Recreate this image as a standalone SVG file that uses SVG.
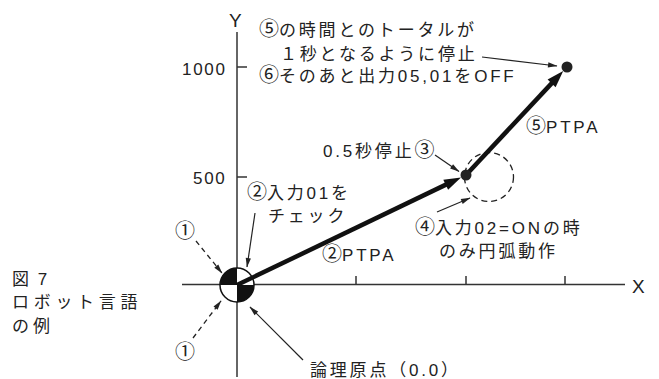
<svg xmlns="http://www.w3.org/2000/svg" width="659" height="379" viewBox="0 0 659 379">
<style>
.t{font-family:'Liberation Sans','Noto Sans CJK JP',sans-serif;font-size:17px;fill:#222;letter-spacing:2.8px}
.c{font-size:20px;letter-spacing:0}
.ax{stroke:#333;stroke-width:1.5;fill:none}
.thin{stroke:#222;stroke-width:1.2;fill:none;marker-end:url(#ah)}
.dash{stroke:#222;stroke-width:1.3;fill:none;stroke-dasharray:5 4;marker-end:url(#ah)}
.thick{stroke:#111;stroke-width:4.5;fill:none}
</style>
<defs>
<marker id="ah" markerUnits="userSpaceOnUse" markerWidth="12" markerHeight="8" viewBox="0 -4 10 8" refX="9" refY="0" orient="auto">
<path d="M0,-2.6 L9.5,0 L0,2.6 Z" fill="#222"/>
</marker>
</defs>
<rect width="659" height="379" fill="#fff"/>
<g id="axes">
<line class="ax" x1="182" y1="284.5" x2="625" y2="284.5"/>
<line class="ax" x1="237" y1="32" x2="237" y2="377"/>
<line class="ax" x1="237" y1="67" x2="247" y2="67"/>
<line class="ax" x1="237" y1="177" x2="247" y2="177"/>
<line class="ax" x1="356" y1="284.5" x2="356" y2="276"/>
<line class="ax" x1="466" y1="284.5" x2="466" y2="276"/>
<line class="ax" x1="565" y1="284.5" x2="565" y2="276"/>
<text class="t" x="229" y="27" style="font-size:19px;letter-spacing:0">Y</text>
<text class="t" x="632" y="293" style="font-size:19px;letter-spacing:0">X</text>
<text class="t" x="182" y="75" style="letter-spacing:1.7px">1000</text>
<text class="t" x="193" y="184" style="letter-spacing:1.7px">500</text>
</g>
<g id="origin">
<circle cx="237" cy="285" r="17" fill="#fff"/>
<path d="M237,285 L220,285 A17,17 0 0 1 237,268 Z" fill="#111"/>
<path d="M237,285 L254,285 A17,17 0 0 1 237,302 Z" fill="#111"/>
<circle cx="237" cy="285" r="17" fill="none" stroke="#111" stroke-width="1.5"/>
</g>
<g id="arc-circle">
<circle cx="489" cy="177" r="24.5" fill="none" stroke="#222" stroke-width="1.3" stroke-dasharray="6 4"/>
</g>
<g id="connectors">
<line class="thick" x1="237" y1="285" x2="447.5" y2="183.9"/>
<polygon points="461,177.4 448.1,189.8 443.3,179.8" fill="#111"/>
<line class="thick" x1="466" y1="175" x2="553" y2="81.9"/>
<polygon points="563.2,71 555.6,87.2 547.6,79.6" fill="#111"/>
<line class="thin" x1="482" y1="57" x2="557" y2="66"/>
<line class="thin" x1="435" y1="155" x2="459" y2="171.5"/>
<line class="thin" x1="437" y1="212" x2="470" y2="198"/>
<line class="thin" x1="255" y1="213" x2="247" y2="267"/>
<line class="thin" x1="303" y1="360" x2="250" y2="307"/>
<line class="dash" x1="196" y1="241" x2="222" y2="273"/>
<line class="dash" x1="193" y1="338" x2="221" y2="301"/>
</g>
<g id="p1"><circle cx="466" cy="175" r="5.5" fill="#222"/></g>
<g id="p2"><circle cx="567" cy="67" r="5.5" fill="#222"/></g>
<g id="note-top">
<text class="t" x="259" y="36"><tspan class="c">⑤</tspan>の時間とのトータルが</text>
<text class="t" x="280" y="60">１秒となるように停止</text>
<text class="t" x="259" y="82"><tspan class="c">⑥</tspan>そのあと出力05,01をOFF</text>
</g>
<g id="label-ptpa5"><text class="t" x="526" y="133"><tspan class="c">⑤</tspan>PTPA</text></g>
<g id="label-stop"><text class="t" x="323" y="157">0.5秒停止<tspan class="c">③</tspan></text></g>
<g id="label-input01">
<text class="t" x="247" y="199"><tspan class="c">②</tspan>入力01を</text>
<text class="t" x="268" y="222">チェック</text>
</g>
<g id="label-input02">
<text class="t" x="415" y="234"><tspan class="c">④</tspan>入力02=ONの時</text>
<text class="t" x="439" y="257">のみ円弧動作</text>
</g>
<g id="label-ptpa2"><text class="t" x="322" y="261"><tspan class="c">②</tspan>PTPA</text></g>
<g id="label-1a"><text class="t c" x="175" y="237.5">①</text></g>
<g id="label-1b"><text class="t c" x="175" y="358.5">①</text></g>
<g id="label-origin"><text class="t" x="310" y="376">論理原点（0.0）</text></g>
<g id="caption">
<text class="t" x="12" y="285" style="letter-spacing:2px">図 7</text>
<text class="t" x="12" y="308" style="letter-spacing:4.7px">ロボット言語</text>
<text class="t" x="12" y="332" style="letter-spacing:4px">の例</text>
</g>
</svg>
